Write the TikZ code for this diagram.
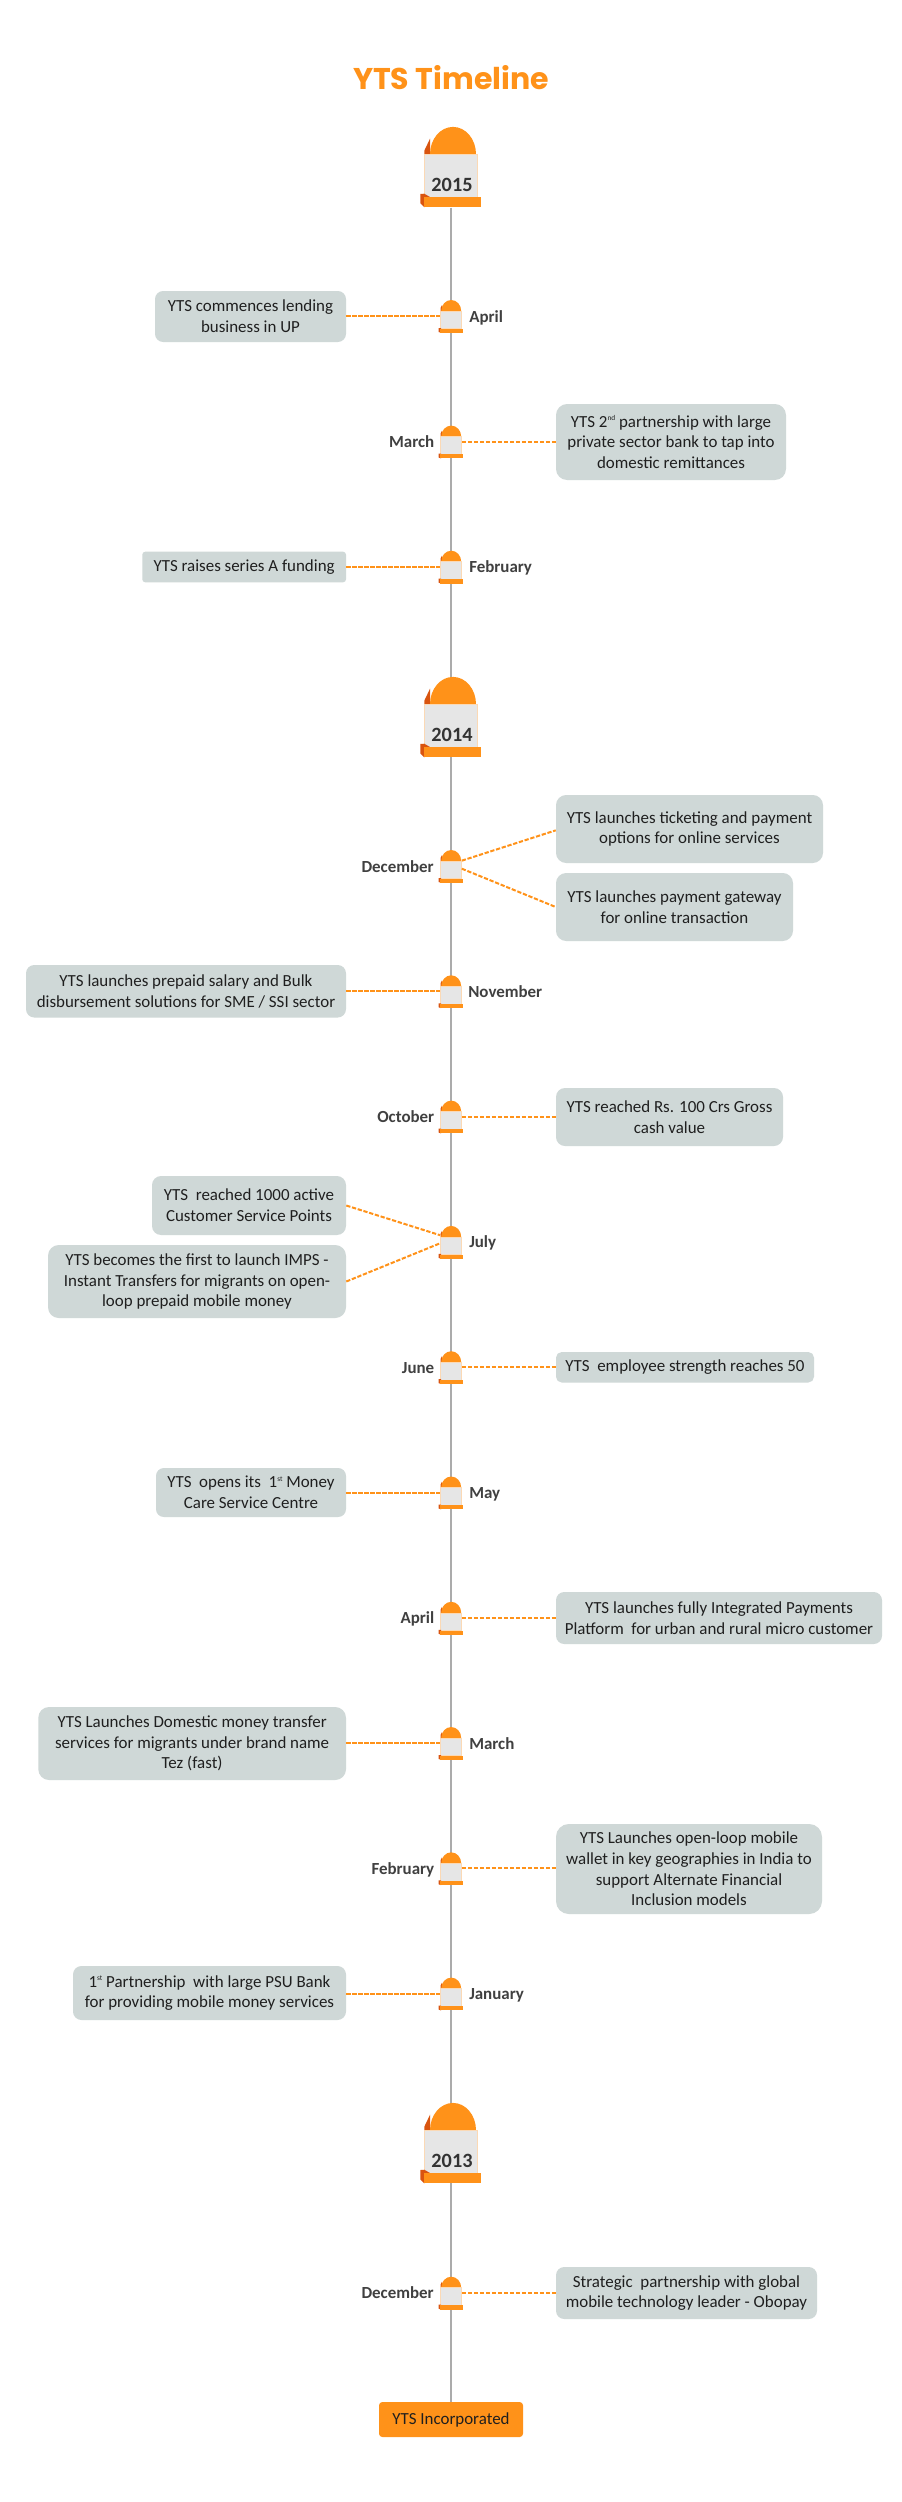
\documentclass[tikz,border=0pt]{standalone}
\usepackage{fontspec}
\setmainfont{Carlito}
\newfontfamily\titlefont{Poppins}
\usetikzlibrary{backgrounds}
\definecolor{org}{HTML}{FF9219}
\definecolor{dorg}{HTML}{D9540F}
\definecolor{bodyg}{HTML}{E6E6E6}
\definecolor{bodye}{HTML}{FBD9B5}
\definecolor{boxg}{HTML}{CFD8D7}
\definecolor{spinec}{HTML}{ABABAB}
\newcommand{\supt}[1]{\raisebox{.8ex}{\fontsize{5.5}{6}\selectfont #1}}
\tikzset{
  gbox/.style={fill=boxg, inner sep=0pt, align=center, text=black!88,
    font=\fontsize{12.7}{15.5}\selectfont},
  sqbox/.style={gbox, rounded corners=2.2pt},
  incbox/.style={gbox, fill=org, rounded corners=2.5pt},
  conn/.style={draw=org, line width=1.5pt, dash pattern=on 3.2pt off 1.3pt},
  spine/.style={draw=spinec, line width=1.6pt},
  monthlab/.style={font=\fontsize{12.7}{15}\selectfont\bfseries, text=black!75, inner sep=0pt},
  yearlab/.style={font=\fontsize{15.2}{18}\selectfont\bfseries, text=black!80, inner sep=0pt},
  titlelab/.style={font=\fontsize{22.5}{28}\titlefont\bfseries, text=org, inner sep=0pt},
  anchorbox/.style={inner sep=0pt, minimum width=15.75pt, minimum height=21pt},
  anchorbig/.style={inner sep=0pt, minimum width=39pt, minimum height=60.5pt}
}
% box: name x1 y1 x2 y2 style text
\newcommand{\tbox}[7]{%
  \pgfmathsetmacro{\bw}{(#4-#2)*0.75}\pgfmathsetmacro{\bh}{(#5-#3)*0.75}%
  \pgfmathsetmacro{\br}{(2+0.12*(#5-#3))*0.75}%
  \node[rounded corners=\br pt, #6, minimum width=\bw pt, minimum height=\bh pt] (#1) at ({(#2+#4)/2},{(#3+#5)/2}) {#7};}
% month label: name x y anchor text
\newcommand{\mlab}[5]{\node[monthlab, anchor=base #4] (#1) at (#2,#3+6) {#5};}
% small marker: name centre-y
\newcommand{\smark}[2]{%
  \begin{scope}[shift={(451,#2)}]
    \fill[dorg] (-10.5,-5) -- (-10.5,-8) -- (-9,-11) -- (-9,-5) -- cycle;
    \fill[org] (-9.8,-5) arc[start angle=180,end angle=360,x radius=10,y radius=11] -- cycle;
    \fill[bodyg, draw=bodye, line width=.4pt] (-10.5,-5) -- (10.5,-5) -- (10.5,12.7) -- (-10.5,12.7) -- cycle;
    \fill[dorg] (-12.3,12) -- (-10,12) -- (-10,16.8) -- (-12.3,16) -- cycle;
    \fill[org] (-11,12.7) -- (12.3,12.7) -- (12.3,16.8) -- (-11,16.8) -- cycle;
    \node[anchorbox] (#1) at (0,0) {};
  \end{scope}}
% big marker: name top-y year
\newcommand{\bmark}[3]{%
  \begin{scope}[shift={(451,#2)}]
    \fill[dorg] (-26.7,27.5) -- (-26.7,24) -- (-21,12) -- (-21,27.5) -- cycle;
    \fill[org] (-21,27.5) arc[start angle=180,end angle=360,x radius=23,y radius=27.3] -- cycle;
    \fill[bodyg, draw=bodye, line width=.4pt] (-26.7,27.5) -- (25.8,27.5) -- (25.8,70.3) -- (-26.7,70.3) -- cycle;
    \fill[dorg] (-30.7,67.3) -- (-26.7,67) -- (-21,70.3) -- (-26.7,80.6) -- (-30.7,76.6) -- cycle;
    \fill[org] (-26.7,70.3) -- (30,70.3) -- (30,80.6) -- (-26.7,80.6) -- cycle;
    \node[yearlab] at (1,58) {#3};
    \node[anchorbig] (#1) at (-0.4,40.3) {};
  \end{scope}}
\begin{document}
\begin{tikzpicture}[x=0.75pt,y=-0.75pt]
\useasboundingbox (0,0) rectangle (902,2502);

\node[titlelab] (title) at (451,78) {YTS Timeline};

\bmark{y15}{126.7}{2015}
\bmark{y14}{676.7}{2014}
\bmark{y13}{2102.7}{2013}

\smark{m1}{316}
\smark{m2}{441.6}
\smark{m3}{566.7}
\smark{m4}{866}
\smark{m5}{991.3}
\smark{m6}{1116.6}
\smark{m7}{1241.9}
\smark{m8}{1367.2}
\smark{m9}{1492.5}
\smark{m10}{1617.8}
\smark{m11}{1743}
\smark{m12}{1868.3}
\smark{m13}{1993.6}
\smark{m14}{2292.7}

\mlab{l1}{469}{316}{west}{April}
\mlab{l2}{434.5}{441.6}{east}{March}
\mlab{l3}{469}{566.7}{west}{February}
\mlab{l4}{434}{866}{east}{December}
\mlab{l5}{468}{991.3}{west}{November}
\mlab{l6}{434.5}{1116.6}{east}{October}
\mlab{l7}{469}{1241.9}{west}{July}
\mlab{l8}{434.5}{1367.2}{east}{June}
\mlab{l9}{469}{1492.5}{west}{May}
\mlab{l10}{434.5}{1617.8}{east}{April}
\mlab{l11}{469}{1743}{west}{March}
\mlab{l12}{434.5}{1868.3}{east}{February}
\mlab{l13}{469}{1993.6}{west}{January}
\mlab{l14}{434}{2292.7}{east}{December}

\tbox{b1}{155}{291}{346}{342}{gbox}{YTS commences lending\\business in UP}
\tbox{b2}{556}{404}{786}{480}{gbox}{YTS 2\supt{nd} partnership with large\\private sector bank to tap into\\domestic remittances}
\tbox{b3}{142.3}{551.7}{346}{582.3}{sqbox}{YTS raises series A funding}
\tbox{b4a}{556}{795}{823}{863}{gbox}{YTS launches ticketing and payment\\options for online services}
\tbox{b4b}{556}{873}{793}{941}{gbox}{YTS launches payment gateway\\for online transaction}
\tbox{b5}{26}{965}{346}{1017.5}{gbox}{YTS launches prepaid salary and Bulk\\disbursement solutions for SME / SSI sector}
\tbox{b6}{556}{1088}{783}{1146}{gbox}{YTS reached Rs. 100 Crs Gross\\cash value}
\tbox{b7a}{152}{1176}{346}{1235}{gbox}{YTS\ \ reached 1000 active\\Customer Service Points}
\tbox{b7b}{48}{1245}{346}{1318}{gbox}{YTS becomes the first to launch IMPS -\\Instant Transfers for migrants on open-\\loop prepaid mobile money}
\tbox{b8}{556}{1352}{814}{1382.5}{gbox}{YTS\ \ employee strength reaches 50}
\tbox{b9}{156}{1468}{346}{1517}{gbox}{YTS\ \ opens its\ \ 1\supt{st} Money\\Care Service Centre}
\tbox{b10}{556}{1592}{882}{1644}{gbox}{YTS launches fully Integrated Payments\\Platform\ \ for urban and rural micro customer}
\tbox{b11}{38.3}{1707}{346}{1780}{gbox}{YTS Launches Domestic money transfer\\services for migrants under brand name\\Tez (fast)}
\tbox{b12}{556}{1824}{822}{1914}{gbox}{YTS Launches open-loop mobile\\wallet in key geographies in India to\\support Alternate Financial\\Inclusion models}
\tbox{b13}{73}{1966}{346}{2020}{gbox}{1\supt{st} Partnership\ \ with large PSU Bank\\for providing mobile money services}
\tbox{b14}{556}{2267}{817}{2319}{gbox}{Strategic\ \ partnership with global\\mobile technology leader - Obopay}
\tbox{inc}{379}{2402}{523}{2437}{incbox}{YTS Incorporated}

\begin{scope}[on background layer]
  \fill[white] (0,0) rectangle (902,2502);
  \draw[spine] (y15.south) -- (y15.south |- inc.north);
\end{scope}

\draw[conn] (b1.east |- m1.west) -- (m1.west);
\draw[conn] (m2.east) -- (b2.west |- m2.east);
\draw[conn] (b3.east |- m3.west) -- (m3.west);
\draw[conn] ([yshift=4pt]m4.east) -- ([yshift=-1pt]b4a.west);
\draw[conn] ([yshift=-2pt]m4.east) -- (b4b.west);
\draw[conn] (b5.east |- m5.west) -- (m5.west);
\draw[conn] (m6.east) -- (b6.west |- m6.east);
\draw[conn] (b7a.east) -- ([yshift=5pt]m7.west);
\draw[conn] (b7b.east) -- ([yshift=-1pt]m7.west);
\draw[conn] (m8.east) -- (b8.west |- m8.east);
\draw[conn] (b9.east |- m9.west) -- (m9.west);
\draw[conn] (m10.east) -- (b10.west |- m10.east);
\draw[conn] (b11.east |- m11.west) -- (m11.west);
\draw[conn] (m12.east) -- (b12.west |- m12.east);
\draw[conn] (b13.east |- m13.west) -- (m13.west);
\draw[conn] (m14.east) -- (b14.west |- m14.east);
\end{tikzpicture}
\end{document}
